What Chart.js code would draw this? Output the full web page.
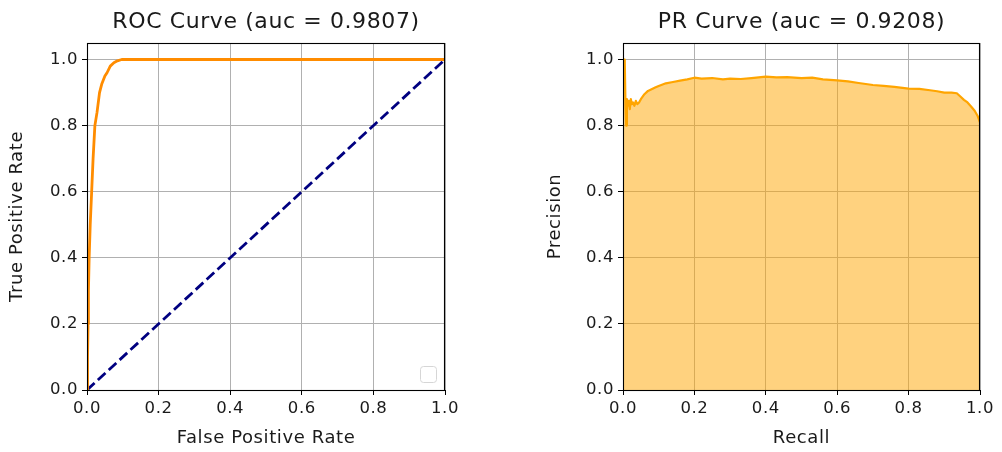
<!DOCTYPE html>
<html>
<head>
<meta charset="utf-8">
<script src="https://cdn.jsdelivr.net/npm/chart.js@4.4.1/dist/chart.umd.min.js"></script>
<style>
  html, body { margin: 0; padding: 0; background: #fff; }
  #wrap { position: relative; width: 1002px; height: 452px; }
  canvas { position: absolute; top: 0; }
  #c1 { left: 0; }
  #c2 { left: 501px; }
</style>
</head>
<body>
<div id="wrap">
  <canvas id="c1" width="501" height="452"></canvas>
  <canvas id="c2" width="501" height="452"></canvas>
</div>
<script>
// ---- Data ----
const rocTitle = 'ROC Curve (auc = 0.9807)';
const prTitle = 'PR Curve (auc = 0.9208)';
const tickValues = [0.0, 0.2, 0.4, 0.6, 0.8, 1.0];

const rocFpr = [0, 0.001, 0.002, 0.003, 0.004, 0.006, 0.009, 0.013, 0.017, 0.022, 0.028, 0.035, 0.041, 0.050, 0.056, 0.065, 0.075, 0.085, 0.097, 0.2, 0.4, 0.6, 0.8, 1.0];
const rocTpr = [0, 0.05, 0.10, 0.20, 0.30, 0.40, 0.50, 0.60, 0.70, 0.80, 0.84, 0.90, 0.925, 0.95, 0.96, 0.98, 0.99, 0.996, 1.0, 1.0, 1.0, 1.0, 1.0, 1.0];

const diagX = [0, 1];
const diagY = [0, 1];

const prRecall = [0, 0.003, 0.005, 0.007, 0.009, 0.011, 0.013, 0.016, 0.019, 0.022, 0.025, 0.028, 0.032, 0.036, 0.040, 0.045, 0.050, 0.060, 0.070, 0.080, 0.090, 0.100, 0.120, 0.140, 0.160, 0.180, 0.200, 0.220, 0.250, 0.280, 0.300, 0.330, 0.360, 0.400, 0.430, 0.460, 0.500, 0.530, 0.560, 0.600, 0.630, 0.660, 0.700, 0.730, 0.760, 0.800, 0.830, 0.860, 0.880, 0.900, 0.920, 0.935, 0.945, 0.955, 0.965, 0.975, 0.985, 0.993, 1.0];
const prPrecision = [1.0, 1.0, 0.99, 0.86, 0.80, 0.88, 0.86, 0.875, 0.85, 0.88, 0.865, 0.87, 0.86, 0.875, 0.865, 0.87, 0.88, 0.895, 0.905, 0.91, 0.915, 0.92, 0.928, 0.932, 0.936, 0.94, 0.945, 0.942, 0.944, 0.94, 0.942, 0.941, 0.944, 0.948, 0.946, 0.947, 0.944, 0.945, 0.94, 0.937, 0.934, 0.929, 0.923, 0.92, 0.917, 0.912, 0.911, 0.907, 0.904, 0.9, 0.9, 0.898, 0.888, 0.878, 0.87, 0.858, 0.845, 0.83, 0.81];

// ---- helpers ----
const FONT = "'DejaVu Sans', sans-serif";
const TXT = '#1a1a1a';
const toPts = (xs, ys) => xs.map((x, i) => ({ x: x, y: ys[i] }));

// matplotlib's hinted text is a little wider than canvas text
const spacingPlugin = {
  id: 'spacing',
  beforeUpdate(chart) { try { chart.ctx.letterSpacing = '0.6px'; } catch (e) {} },
  beforeDraw(chart) { try { chart.ctx.letterSpacing = '0.6px'; } catch (e) {} }
};

const framePlugin = {
  id: 'frame',
  afterDatasetsDraw(chart) {
    const a = chart.chartArea, ctx = chart.ctx;
    ctx.save();
    ctx.strokeStyle = '#000';
    ctx.lineWidth = 1.1;
    ctx.strokeRect(Math.round(a.left) + 0.5, Math.round(a.top) + 0.5, Math.round(a.right - a.left) - 1, Math.round(a.bottom - a.top));
    ctx.restore();
  }
};

const emptyLegendPlugin = {
  id: 'emptyLegend',
  afterDraw(chart) {
    const a = chart.chartArea, ctx = chart.ctx;
    const w = 16, h = 16;
    const x = a.right - 9 - w, y = a.bottom - 8 - h;
    ctx.save();
    ctx.fillStyle = 'rgba(255,255,255,0.8)';
    ctx.strokeStyle = '#d6d6d6';
    ctx.lineWidth = 1;
    ctx.beginPath();
    ctx.roundRect(x + 0.5, y + 0.5, w, h, 3);
    ctx.fill();
    ctx.stroke();
    ctx.restore();
  }
};

function axes(xTitle, yTitle, yTitlePad) {
  const common = {
    type: 'linear',
    border: { display: false },
    grid: { color: '#b0b0b0', lineWidth: 1, tickColor: '#000', tickLength: 5, drawTicks: true },
    ticks: {
      color: TXT, font: { family: FONT, size: 16.5 }, padding: 4,
      stepSize: 0.2, includeBounds: false, maxRotation: 0, autoSkip: false,
      callback: v => { const r = Math.round(v * 10) / 10; return tickValues.some(t => Math.abs(t - r) < 1e-9) && Math.abs(v - r) < 1e-9 ? r.toFixed(1) : null; }
    }
  };
  return {
    x: Object.assign({}, common, {
      min: 0, max: 1,
      title: { display: true, text: xTitle, color: TXT, font: { family: FONT, size: 18 }, padding: { top: 0, bottom: 3 } },
      afterFit: s => { s.height = 62; }
    }),
    y: Object.assign({}, common, {
      min: 0, max: 1.05,
      title: { display: true, text: yTitle, color: TXT, font: { family: FONT, size: 18 }, padding: { top: yTitlePad, bottom: 0 } },
      afterFit: s => { s.width = 87; }
    })
  };
}

function titleOpts(text) {
  return {
    display: true, text: text, fullSize: false, color: TXT,
    font: { family: FONT, size: 22, weight: 'normal' },
    padding: { top: 8.8, bottom: 7.8 }
  };
}

new Chart(document.getElementById('c1'), {
  type: 'scatter',
  data: {
    datasets: [
      { data: toPts(rocFpr, rocTpr), showLine: true, borderColor: '#ff8c00', borderWidth: 2.8, pointRadius: 0, fill: false, tension: 0, borderJoinStyle: 'round', borderCapStyle: 'butt' },
      { data: toPts(diagX, diagY), showLine: true, borderColor: '#000080', borderWidth: 2.8, borderDash: [10.3, 4.5], pointRadius: 0, fill: false }
    ]
  },
  options: {
    responsive: false, animation: false,
    layout: { padding: { left: 0, right: 56, top: 0, bottom: 0 } },
    plugins: { legend: { display: false }, tooltip: { enabled: false }, title: titleOpts(rocTitle) },
    scales: axes('False Positive Rate', 'True Positive Rate', 7)
  },
  plugins: [spacingPlugin, framePlugin, emptyLegendPlugin]
});

new Chart(document.getElementById('c2'), {
  type: 'scatter',
  data: {
    datasets: [
      { data: toPts(prRecall, prPrecision), showLine: true, borderColor: '#ffa500', backgroundColor: 'rgba(255,165,0,0.5)', borderWidth: 2.2, pointRadius: 0, fill: 'origin', tension: 0, borderJoinStyle: 'round' }
    ]
  },
  options: {
    responsive: false, animation: false,
    layout: { padding: { left: 35, right: 22, top: 0, bottom: 0 } },
    plugins: { legend: { display: false }, tooltip: { enabled: false }, title: titleOpts(prTitle) },
    scales: axes('Recall', 'Precision', 9)
  },
  plugins: [spacingPlugin, framePlugin]
});
</script>
</body>
</html>
